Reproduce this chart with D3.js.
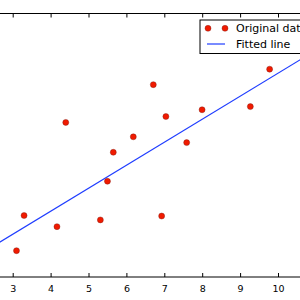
<!DOCTYPE html>
<html>
<head>
<meta charset="utf-8">
<script src="https://cdn.jsdelivr.net/npm/d3@7"></script>
<style>
  body { margin: 0; background: #fff; }
  svg { display: block; font-family: "DejaVu Sans", sans-serif; }
</style>
</head>
<body>
<div id="chart"></div>
<script>
// training data
const trainX = [3.3, 4.4, 5.5, 6.71, 6.93, 4.168, 9.779, 6.182, 7.59, 2.167, 7.042, 10.791, 5.313, 7.997, 5.654, 9.27, 3.1];
const trainY = [1.7, 2.76, 2.09, 3.19, 1.694, 1.573, 3.366, 2.596, 2.53, 1.221, 2.827, 3.465, 1.65, 2.904, 2.42, 2.94, 1.3];

// fitted line, end points
const fitX = [2.167, 10.791];
const fitY = [1.268, 3.527];

const xTicks = [2, 3, 4, 5, 6, 7, 8, 9, 10, 11];
// only these labels fall inside the photographed area
const xTickLabels = [3, 4, 5, 6, 7, 8, 9, 10];
const legendLabels = ["Original data", "Fitted line"];

function init() {
  const width = 300;
  const height = 300;

  const svg = d3.select("#chart")
    .append("svg")
    .attr("width", width)
    .attr("height", height);

  svg.append("rect")
    .attr("width", width)
    .attr("height", height)
    .attr("fill", "#fff");

  // axes run past the photographed area on the left and right
  const x = d3.scaleLinear().domain([2, 11]).range([-25.2, 315.9]);
  const y = d3.scaleLinear().domain([1, 4]).range([277, 13.5]);

  const top = y(4), bottom = y(1);
  const left = x(2), right = x(11);

  // frame
  svg.append("rect")
    .attr("x", left)
    .attr("y", top)
    .attr("width", right - left)
    .attr("height", bottom - top)
    .attr("fill", "none")
    .attr("stroke", "#000")
    .attr("stroke-width", 1);

  // ticks point inwards, like classic matplotlib
  const bottomAxis = d3.axisBottom(x)
    .tickValues(xTicks)
    .tickFormat(d => xTickLabels.includes(d) ? d : "")
    .tickSizeInner(-4)
    .tickSizeOuter(0)
    .tickPadding(8);
  const gb = svg.append("g")
    .attr("transform", "translate(0," + bottom + ")")
    .call(bottomAxis);
  gb.select(".domain").remove();
  gb.selectAll("line").attr("stroke", "#000");
  gb.selectAll("text")
    .attr("fill", "#000")
    .style("font-size", "9.5px")
    .style("font-family", "DejaVu Sans");

  const topAxis = d3.axisTop(x).tickValues(xTicks).tickSizeInner(-4).tickSizeOuter(0).tickFormat("");
  const gt = svg.append("g")
    .attr("transform", "translate(0," + top + ")")
    .call(topAxis);
  gt.select(".domain").remove();
  gt.selectAll("line").attr("stroke", "#000");

  // fitted line
  const line = d3.line()
    .x(d => x(d[0]))
    .y(d => y(d[1]));

  svg.append("path")
    .datum(d3.zip(fitX, fitY))
    .attr("d", line)
    .attr("fill", "none")
    .attr("stroke", "#1f3dff")
    .attr("stroke-width", 1.2);

  // data points
  svg.append("g")
    .selectAll("circle")
    .data(d3.zip(trainX, trainY))
    .enter()
    .append("circle")
    .attr("cx", d => x(d[0]))
    .attr("cy", d => y(d[1]))
    .attr("r", 3)
    .attr("fill", "#f01a00")
    .attr("stroke", "#7a1a10")
    .attr("stroke-width", 0.4);

  // legend
  const lg = svg.append("g").attr("transform", "translate(200,20)");
  lg.append("rect")
    .attr("width", 110)
    .attr("height", 33.5)
    .attr("fill", "#fff")
    .attr("stroke", "#000")
    .attr("stroke-width", 1);

  lg.selectAll("circle")
    .data([8, 25])
    .enter()
    .append("circle")
    .attr("cx", d => d)
    .attr("cy", 8.3)
    .attr("r", 3)
    .attr("fill", "#f01a00")
    .attr("stroke", "#7a1a10")
    .attr("stroke-width", 0.4);

  lg.append("line")
    .attr("x1", 7)
    .attr("x2", 25)
    .attr("y1", 24)
    .attr("y2", 24)
    .attr("stroke", "#1f3dff")
    .attr("stroke-width", 1.2);

  lg.selectAll("text")
    .data(legendLabels)
    .enter()
    .append("text")
    .attr("x", 36)
    .attr("y", (d, i) => 12 + i * 16)
    .style("font-size", "11px")
    .attr("fill", "#000")
    .text(d => d);
}
init();
</script>
</body>
</html>
